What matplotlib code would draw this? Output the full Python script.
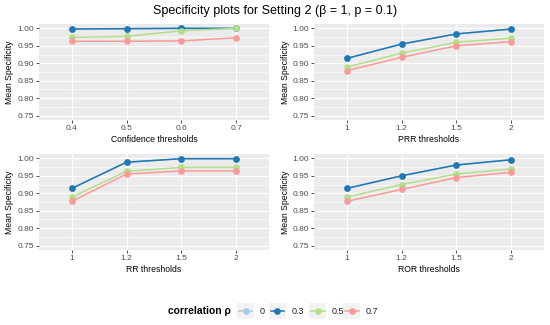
import matplotlib.pyplot as plt
from matplotlib.lines import Line2D
from matplotlib.patches import Rectangle
from matplotlib.ticker import MultipleLocator

plt.rcParams["font.family"] = ["Liberation Sans", "DejaVu Sans"]

# data
rho_levels = ["0", "0.3", "0.5", "0.7"]
colors = ["#A6CEE3", "#1F78B4", "#B2DF8A", "#FB9A99"]

conf_ticks = ["0.4", "0.5", "0.6", "0.7"]
ratio_ticks = ["1", "1.2", "1.5", "2"]

conf_vals = {
    "0": [0.998, 0.999, 1.000, 1.000],
    "0.3": [0.998, 0.999, 1.000, 1.000],
    "0.5": [0.974, 0.977, 0.993, 1.000],
    "0.7": [0.963, 0.963, 0.964, 0.973],
}
prr_vals = {
    "0": [0.914, 0.955, 0.984, 0.998],
    "0.3": [0.914, 0.955, 0.984, 0.998],
    "0.5": [0.889, 0.929, 0.960, 0.972],
    "0.7": [0.879, 0.917, 0.950, 0.962],
}
rr_vals = {
    "0": [0.914, 0.989, 0.999, 0.999],
    "0.3": [0.914, 0.989, 0.999, 0.999],
    "0.5": [0.889, 0.963, 0.974, 0.974],
    "0.7": [0.877, 0.955, 0.964, 0.964],
}
ror_vals = {
    "0": [0.914, 0.950, 0.981, 0.996],
    "0.3": [0.914, 0.950, 0.981, 0.996],
    "0.5": [0.889, 0.925, 0.955, 0.970],
    "0.7": [0.877, 0.911, 0.945, 0.960],
}

panels = [
    (conf_vals, conf_ticks, "Confidence thresholds"),
    (prr_vals, ratio_ticks, "PRR thresholds"),
    (rr_vals, ratio_ticks, "RR thresholds"),
    (ror_vals, ratio_ticks, "ROR thresholds"),
]

fig = plt.figure(figsize=(5.5, 3.25), dpi=100)
boxes = [
    [0.0709, 0.6308, 0.418, 0.2954],
    [0.571, 0.6308, 0.418, 0.2954],
    [0.0709, 0.2308, 0.418, 0.2954],
    [0.571, 0.2308, 0.418, 0.2954],
]

for box, (vals, ticks, xlabel) in zip(boxes, panels):
    ax = fig.add_axes(box)
    ax.set_facecolor("#EBEBEB")
    x = range(1, len(ticks) + 1)
    for lev, col in zip(rho_levels, colors):
        ax.plot(x, vals[lev], "-o", color=col, lw=1.1, ms=3.8, zorder=3)
    ax.set_xlim(0.4, 4.6)
    ax.set_ylim(0.7375, 1.0125)
    ax.set_xticks(list(x))
    ax.set_xticklabels(ticks)
    ax.yaxis.set_major_locator(MultipleLocator(0.05))
    ax.yaxis.set_minor_locator(MultipleLocator(0.025))
    ax.yaxis.set_major_formatter(plt.FormatStrFormatter("%.2f"))
    ax.grid(True, which="major", color="white", lw=0.9)
    ax.grid(True, which="minor", axis="y", color="white", lw=0.45)
    ax.set_axisbelow(True)
    for s in ax.spines.values():
        s.set_visible(False)
    ax.tick_params(which="major", length=2.2, width=0.6, color="#333333",
                   labelsize=6, labelcolor="#4D4D4D", pad=1.5)
    ax.tick_params(which="minor", length=0)
    ax.set_xlabel(xlabel, fontsize=6.2, labelpad=2)
    ax.set_ylabel("Mean Specificity", fontsize=6.2, labelpad=2)

fig.suptitle("Specificity plots for Setting 2 (β = 1, p = 0.1)", fontsize=9, y=0.985)

# legend at the bottom
fig.text(0.305, 0.043, "correlation ρ", fontsize=7.4, fontweight="bold", va="center")
key_x = [0.431, 0.489, 0.562, 0.624]
kw = 0.031
kh = 0.052
for kx, lev, col in zip(key_x, rho_levels, colors):
    fig.patches.append(Rectangle((kx, 0.043 - kh / 2), kw, kh, transform=fig.transFigure,
                                 facecolor="#F2F2F2", edgecolor="none"))
    fig.lines.append(Line2D([kx + 0.003, kx + kw - 0.003], [0.043, 0.043], color=col, lw=1.1,
                            transform=fig.transFigure))
    fig.lines.append(Line2D([kx + kw / 2], [0.043], marker="o", ms=3.8, color=col,
                            transform=fig.transFigure))
    fig.text(kx + kw + 0.01, 0.043, lev, fontsize=6.5, va="center", color="#222222")

fig.savefig("out.png", dpi=100)
